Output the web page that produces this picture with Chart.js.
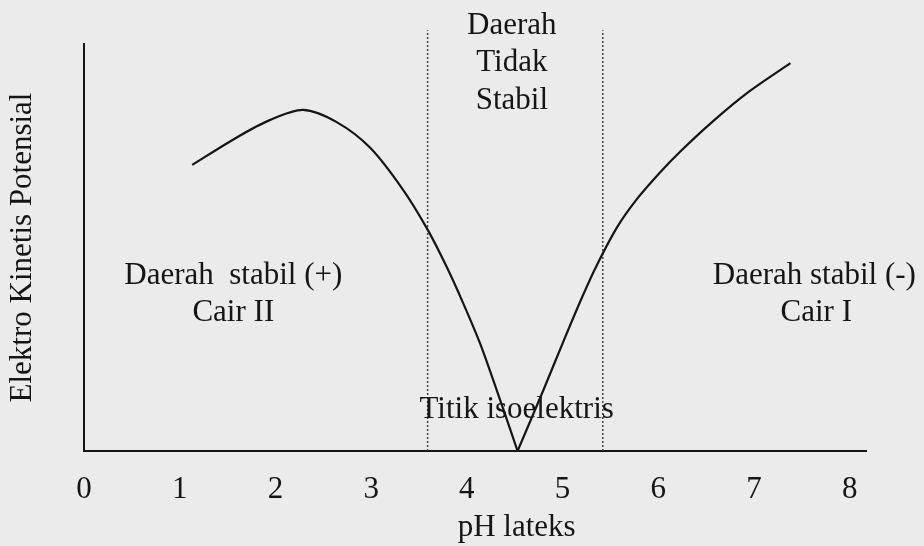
<!DOCTYPE html>
<html>
<head>
<meta charset="utf-8">
<script src="https://cdn.jsdelivr.net/npm/chart.js@4"></script>
<style>
  html, body { margin: 0; padding: 0; background: #ebebeb; }
  canvas { display: block; }
</style>
</head>
<body>
<canvas id="chart" width="924" height="546"></canvas>
<script>
const xTicks = [0, 1, 2, 3, 4, 5, 6, 7, 8];

// kiri titik isoelektris (muatan +)
const leftPh = [1.13, 1.6, 1.94, 2.29, 2.64, 2.99, 3.33, 3.59, 3.79, 3.96, 4.14, 4.37, 4.53];
const leftPotential = [7.03, 7.71, 8.13, 8.38, 8.08, 7.45, 6.43, 5.44, 4.52, 3.64, 2.63, 1.1, 0];

// kanan titik isoelektris (muatan -)
const rightPh = [4.53, 4.8, 5.01, 5.18, 5.34, 5.57, 5.78, 6.02, 6.23, 6.57, 6.93, 7.38];
const rightPotential = [0, 1.5, 2.7, 3.65, 4.48, 5.5, 6.2, 6.85, 7.36, 8.1, 8.8, 9.53];

// batas daerah tidak stabil
const boundaryPh = [3.59, 5.42];
const boundaryTop = 10.34;

const serif = "'Liberation Serif', 'Times New Roman', serif";
const ink = "#151515";

function toPoints(xs, ys) {
  return xs.map((x, i) => ({ x, y: ys[i] }));
}

const notesPlugin = {
  id: "notes",
  afterDatasetsDraw(chart) {
    const { ctx, scales } = chart;
    const notes = [
      { text: "Daerah", x: 4.47, y: 10.44 },
      { text: "Tidak", x: 4.47, y: 9.53 },
      { text: "Stabil", x: 4.47, y: 8.6 },
      { text: "Daerah  stabil (+)", x: 1.56, y: 4.3 },
      { text: "Cair II", x: 1.56, y: 3.39 },
      { text: "Daerah stabil (-)", x: 7.63, y: 4.3 },
      { text: "Cair I", x: 7.65, y: 3.39 },
      { text: "Titik isoelektris", x: 4.52, y: 1.0 },
      { text: "pH lateks", x: 4.52, y: -1.89 },
    ];
    ctx.save();
    ctx.font = `31px ${serif}`;
    ctx.fillStyle = ink;
    ctx.textAlign = "center";
    ctx.textBaseline = "middle";
    notes.forEach((n) => {
      ctx.fillText(n.text, scales.x.getPixelForValue(n.x), scales.y.getPixelForValue(n.y));
    });
    ctx.restore();
  },
};

new Chart(document.querySelector("#chart"), {
  type: "line",
  data: {
    datasets: [
      {
        data: toPoints(leftPh, leftPotential),
        borderColor: ink,
        borderWidth: 2.2,
        pointRadius: 0,
        tension: 0.3,
        fill: false,
      },
      {
        data: toPoints(rightPh, rightPotential),
        borderColor: ink,
        borderWidth: 2.2,
        pointRadius: 0,
        tension: 0.3,
        fill: false,
      },
      ...boundaryPh.map((ph) => ({
        data: [{ x: ph, y: 0 }, { x: ph, y: boundaryTop }],
        borderColor: "#444",
        borderWidth: 1.5,
        borderDash: [2, 2],
        pointRadius: 0,
        clip: false,
        fill: false,
      })),
    ],
  },
  options: {
    responsive: false,
    animation: false,
    layout: { padding: { top: 44, right: 58, left: 0, bottom: 0 } },
    plugins: { legend: { display: false }, tooltip: { enabled: false } },
    events: [],
    scales: {
      x: {
        type: "linear",
        min: 0,
        max: 8.17,
        afterBuildTicks: (scale) => {
          scale.ticks = xTicks.map((value) => ({ value }));
        },
        afterFit: (scale) => {
          scale.height = 95;
        },
        grid: { display: false, drawTicks: false },
        border: { display: true, color: ink, width: 2 },
        ticks: { color: ink, font: { family: serif, size: 31 }, padding: 20, maxRotation: 0 },
      },
      y: {
        type: "linear",
        min: 0,
        max: 10,
        afterFit: (scale) => {
          scale.width = 84;
        },
        grid: { display: false, drawTicks: false },
        border: { display: true, color: ink, width: 2 },
        ticks: { display: false },
        title: {
          display: true,
          text: "Elektro Kinetis Potensial",
          color: ink,
          font: { family: serif, size: 31 },
          padding: { top: 4, bottom: 0 },
        },
      },
    },
  },
  plugins: [notesPlugin],
});
</script>
</body>
</html>
